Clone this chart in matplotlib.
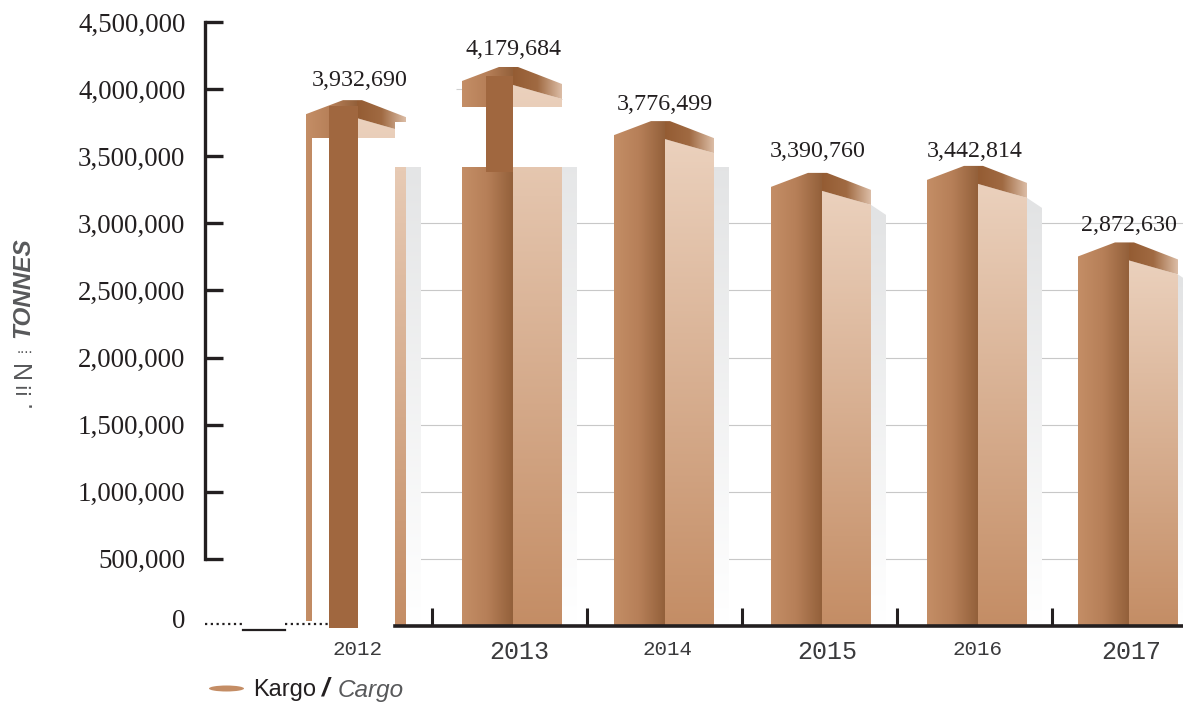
import numpy as np
import matplotlib
matplotlib.use("Agg")
import matplotlib.pyplot as plt
from matplotlib.colors import LinearSegmentedColormap
from matplotlib.patches import Polygon, Rectangle, Ellipse
from matplotlib.transforms import ScaledTranslation

# Данные
years = ["2012", "2013", "2014", "2015", "2016", "2017"]
cargo = [3932690, 4179684, 3776499, 3390760, 3442814, 2872630]
y_ticks = [0, 500000, 1000000, 1500000, 2000000, 2500000, 3000000, 3500000, 4000000, 4500000]
grid_values = [500000, 1000000, 1500000, 2000000, 2500000, 3000000]

W, H = 1183, 709
X0, STEP = 357, 155      # пиксель центра первого столбца и шаг
Y0, PX_500K = 626, 67.1  # пиксель нуля и пикселей на 500 000
DARK = "#231f20"
nudge = [0, 1, -2, 0, 1, -3]
label_dx = [3, 0, 0, -4, -3, 0]
label_gap = [18, 15, 15, 19, 12, 15]
year_dx = [1, 7, 0, 5, 0, -1]
year_size = [15, 18, 15, 18, 15, 18]
ROOF_DROP = 2


def px_x(p):
    return (p - X0) / STEP


def dx(p):
    return p / STEP


def dy(p):
    return p * 500000 / PX_500K


def px_y(p):
    return dy(Y0 - p)


def grad_poly(ax, pts, colors, horizontal, z):
    # градиент через imshow, обрезанный по многоугольнику
    pts = np.array(pts)
    cmap = LinearSegmentedColormap.from_list("g", colors)
    ramp = np.linspace(0, 1, 256)
    if horizontal:
        img = ramp.reshape(1, -1)
    else:
        img = ramp.reshape(-1, 1)
    ext = (pts[:, 0].min(), pts[:, 0].max(), pts[:, 1].min(), pts[:, 1].max())
    im = ax.imshow(img, cmap=cmap, extent=ext, origin="upper", aspect="auto", zorder=z, vmin=0, vmax=1)
    patch = Polygon(pts, closed=True, transform=ax.transData, fill=False, lw=0)
    ax.add_patch(patch)
    im.set_clip_path(patch)


def white(ax, x1, x2, y1, y2, z):
    ax.add_patch(Rectangle((px_x(x1), px_y(y2)), dx(x2 - x1), dy(y2 - y1), color="white", lw=0, zorder=z))


plt.rcParams["font.family"] = ["Liberation Serif", "DejaVu Serif"]
fig = plt.figure(figsize=(W / 100, H / 100), dpi=100)
ax = fig.add_axes([205 / W, 1 - Y0 / H, (W - 205) / W, (Y0 - 22) / H])

# Сетка
ax.hlines(grid_values, px_x(405), px_x(W), color="#c8c8c8", lw=0.8, zorder=1)
ax.hlines([4000000], px_x(456), px_x(463), color="#d0d0d0", lw=0.8, zorder=1)

# Столбцы
for i, v in enumerate(cargo):
    c = i + dx(nudge[i])
    left = c - dx(51)
    right = c + dx(49)
    top = v - dy(ROOF_DROP)
    # тень
    rt = top - dy(32)
    grad_poly(ax, [(right, 0), (right, rt), (right + dx(15), rt - dy(10)), (right + dx(15), 0)],
              ["#e2e3e4", "#ffffff"], False, 2)
    # левая грань и левый скат
    grad_poly(ax, [(left, 0), (left, top - dy(14)), (c - dx(14), top), (c, top), (c, 0)],
              ["#c48e66", "#b67f58", "#93603a"], True, 3)
    # правая грань
    grad_poly(ax, [(c, 0), (c, top - dy(18)), (right, rt), (right, 0)],
              ["#ebd1bd", "#c48d65"], False, 3)
    # правый скат
    grad_poly(ax, [(c, top), (c + dx(5), top), (right, top - dy(17)), (right, rt), (c, top - dy(18))],
              ["#945c33", "#a06a42", "#dcbda6"], True, 3)
    ax.text(c + dx(label_dx[i]), v + dy(label_gap[i]), f"{v:,}", ha="center", va="center",
            fontsize=17.3, color=DARK, zorder=7)

# Обрывы в столбцах 2012 и 2013
white(ax, 395, 730, 100, 167, 2.5)
white(ax, 312, 329, 138, 630, 4)
white(ax, 358, 395, 138, 630, 4)
white(ax, 395, 420, 122, 167, 4)
white(ax, 306, 312, 621, 630, 4)
white(ax, 456, 580, 107, 167, 4)
white(ax, 562.5, 580, 80, 167, 4)
ax.add_patch(Rectangle((px_x(329), px_y(628)), dx(29), dy(522), color="#a0673f", lw=0, zorder=5, clip_on=False))
ax.add_patch(Rectangle((px_x(486), px_y(172)), dx(27), dy(96), color="#a0673f", lw=0, zorder=5))

# Оси
for s in ["top", "right"]:
    ax.spines[s].set_visible(False)
ax.spines["left"].set_bounds(500000, 4500000)
ax.spines["left"].set_linewidth(2.4)
ax.spines["left"].set_color(DARK)
ax.spines["bottom"].set_bounds(px_x(395), px_x(W))
ax.spines["bottom"].set_linewidth(2.6)
ax.spines["bottom"].set_color(DARK)
ax.spines["bottom"].set_zorder(6)

ax.set_yticks(y_ticks)
ax.set_yticklabels([f"{t:,}" for t in y_ticks])
ax.tick_params(axis="y", direction="in", length=13, width=2.4, color=DARK, pad=14, labelsize=19.4, labelcolor=DARK)
ax.yaxis.get_major_ticks()[0].tick1line.set_visible(False)
zero_label = ax.yaxis.get_major_ticks()[0].label1
zero_label.set_transform(zero_label.get_transform() + ScaledTranslation(0, 8 / 100, fig.dpi_scale_trans))

ax.set_xticks([i + dx(year_dx[i]) for i in range(len(years))])
ax.set_xticklabels(years, family=["Liberation Mono"], color="#3a3a3c")
ax.tick_params(axis="x", which="major", length=0, pad=10)
for lab, size in zip(ax.get_xticklabels(), year_size):
    lab.set_fontsize(size)
ax.set_xticks([i + 0.484 for i in range(5)], minor=True)
ax.tick_params(axis="x", which="minor", direction="in", length=13, width=2.2, color=DARK)

# Нулевая линия слева
ax.plot([px_x(205), px_x(243)], [px_y(624)] * 2, color=DARK, lw=1.6, ls=(0, (1, 1.6)), clip_on=False, zorder=6)
ax.plot([px_x(285), px_x(329)], [px_y(624)] * 2, color=DARK, lw=1.6, ls=(0, (1, 1.6)), clip_on=False, zorder=6)
ax.plot([px_x(243), px_x(285)], [px_y(630)] * 2, color=DARK, lw=1.6, clip_on=False, zorder=6)

ax.set_xlim(px_x(205), px_x(W))
ax.set_ylim(0, 4500000)

# Подпись оси Y
GRAY = "#58595b"
sans = ["Liberation Sans", "DejaVu Sans"]
fig.text(23 / W, 1 - 288 / H, "TONNES", rotation=90, ha="center", va="center", family=sans,
         fontsize=17.5, fontweight="bold", style="italic", color=GRAY)
fig.text(25 / W, 1 - 349 / H, "....", ha="center", va="center", family=sans, fontsize=11, color=GRAY)
fig.text(24 / W, 1 - 369 / H, "N", rotation=90, ha="center", va="center", family=sans, fontsize=18, color=GRAY)
fig.text(24 / W, 1 - 388 / H, "!!", rotation=90, ha="center", va="center", family=sans, fontsize=16, color=GRAY)
fig.text(24 / W, 1 - 404 / H, ".", rotation=90, ha="center", va="center", family=sans, fontsize=18, color=GRAY)

# Легенда
fig.add_artist(Ellipse((226.5 / W, 1 - 688.5 / H), 35 / W, 6 / H, transform=fig.transFigure, color="#c48d65", lw=0))
fig.text(253 / W, 1 - 690 / H, "Kargo", ha="left", va="center", family=sans, fontsize=17, color=DARK)
fig.text(326 / W, 1 - 689 / H, "/", ha="center", va="center", family=sans, fontsize=19, fontweight="bold", style="italic", color=DARK)
fig.text(338 / W, 1 - 690 / H, "Cargo", ha="left", va="center", family=sans, fontsize=17.5, style="italic", color=GRAY)

fig.savefig("out.png", dpi=100)
